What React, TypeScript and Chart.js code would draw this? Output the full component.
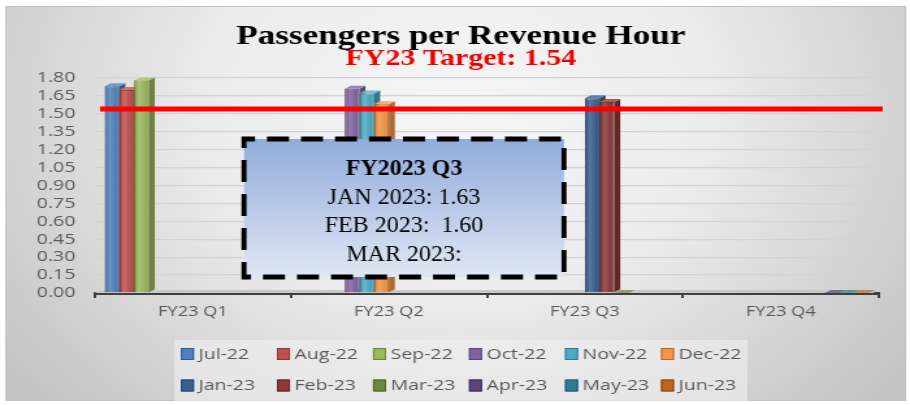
import React, { useEffect, useRef } from "react";
import { Chart, registerables } from "chart.js";

Chart.register(...registerables);

// ---------- data ----------
const CATEGORIES = ["FY23 Q1", "FY23 Q2", "FY23 Q3", "FY23 Q4"];
const MONTHS = ["Jul-22", "Aug-22", "Sep-22", "Oct-22", "Nov-22", "Dec-22", "Jan-23", "Feb-23", "Mar-23", "Apr-23", "May-23", "Jun-23"];
const JUL_22 = [1.73, null, null, null];
const AUG_22 = [1.70, null, null, null];
const SEP_22 = [1.78, null, null, null];
const OCT_22 = [null, 1.71, null, null];
const NOV_22 = [null, 1.67, null, null];
const DEC_22 = [null, 1.58, null, null];
const JAN_23 = [null, null, 1.63, null];
const FEB_23 = [null, null, 1.60, null];
const MAR_23 = [null, null, 0, null];
const APR_23 = [null, null, null, 0];
const MAY_23 = [null, null, null, 0];
const JUN_23 = [null, null, null, 0];
const SERIES = [JUL_22, AUG_22, SEP_22, OCT_22, NOV_22, DEC_22, JAN_23, FEB_23, MAR_23, APR_23, MAY_23, JUN_23];
const COLORS = ["#4F81BD", "#C0504D", "#9BBB59", "#8064A2", "#4BACC6", "#F79646", "#3B5F8F", "#8C3836", "#6E8B3D", "#5A4578", "#2E7D91", "#C0651C"];
const TARGET = 1.54;
const Y_MIN = 0;
const Y_MAX = 1.8;
const Y_STEP = 0.15;
const TITLE = "Passengers per Revenue Hour";
const SUBTITLE = "FY23 Target: " + TARGET.toFixed(2);
const NOTE_TITLE = "FY2023 Q3";
const NOTE_LINES = [
  "JAN 2023: " + (JAN_23[2] as number).toFixed(2),
  "FEB 2023:  " + (FEB_23[2] as number).toFixed(2),
  "MAR 2023:",
];

// ---------- layout ----------
const S = 1.3; // horizontal stretch of the chart picture
const W = 700;
const H = 405;
const DX = 4.6;
const DY = 3;
const SERIF = '"Liberation Serif", "Times New Roman", serif';
const SANS = '"Open Sans", "DejaVu Sans", sans-serif';

function shade(hex: string, amt: number): string {
  const n = parseInt(hex.slice(1), 16);
  let r = (n >> 16) & 255, g = (n >> 8) & 255, b = n & 255;
  if (amt < 0) {
    r = r * (1 + amt); g = g * (1 + amt); b = b * (1 + amt);
  } else {
    r = r + (255 - r) * amt; g = g + (255 - g) * amt; b = b + (255 - b) * amt;
  }
  return `rgb(${Math.round(r)},${Math.round(g)},${Math.round(b)})`;
}

function poly(ctx: CanvasRenderingContext2D, pts: number[][]) {
  ctx.beginPath();
  ctx.moveTo(pts[0][0], pts[0][1]);
  for (let i = 1; i < pts.length; i++) ctx.lineTo(pts[i][0], pts[i][1]);
  ctx.closePath();
  ctx.fill();
}

const framePlugin = {
  id: "framePlugin",
  beforeDraw(chart: any) {
    const ctx = chart.ctx as CanvasRenderingContext2D;
    ctx.save();
    ctx.fillStyle = "#ffffff";
    ctx.fillRect(0, 0, W, H);
    const g = ctx.createRadialGradient(352, 110, 0, 352, 110, 430);
    g.addColorStop(0, "#f6f6f6");
    g.addColorStop(0.45, "#ececec");
    g.addColorStop(1, "#c4c4c4");
    ctx.fillStyle = g;
    ctx.fillRect(4, 6, 693, 395);
    ctx.strokeStyle = "#c2c2c2";
    ctx.lineWidth = 1;
    ctx.strokeRect(4.5, 6.5, 692, 394);
    // legend panel
    ctx.fillStyle = "rgba(240,240,240,0.6)";
    ctx.fillRect(134, 340, 441, 61);
    ctx.restore();
  },
};

const bar3dPlugin = {
  id: "bar3dPlugin",
  beforeDatasetsDraw(chart: any) {
    const ctx = chart.ctx as CanvasRenderingContext2D;
    const ca = chart.chartArea;
    const yb = chart.scales.y.getPixelForValue(0);
    ctx.save();
    ctx.fillStyle = "#c8c8c8";
    poly(ctx, [[ca.left, yb], [ca.left + DX, yb - DY], [ca.right, yb - DY], [ca.right - DX, yb]]);
    chart.data.datasets.forEach((ds: any, i: number) => {
      const meta = chart.getDatasetMeta(i);
      const col = COLORS[i];
      meta.data.forEach((el: any, j: number) => {
        if (ds.data[j] == null) return;
        const p = el.getProps(["x", "y", "base", "width"], true);
        const l = p.x - p.width / 2, r = p.x + p.width / 2;
        const t = Math.min(p.y, p.base), b = Math.max(p.y, p.base);
        ctx.fillStyle = shade(col, -0.3);
        poly(ctx, [[r, t], [r + DX, t - DY], [r + DX, b - DY], [r, b]]);
        ctx.fillStyle = shade(col, 0.2);
        poly(ctx, [[l, t], [l + DX, t - DY], [r + DX, t - DY], [r, t]]);
      });
    });
    ctx.restore();
  },
  afterDatasetsDraw(chart: any) {
    const ctx = chart.ctx as CanvasRenderingContext2D;
    ctx.save();
    chart.data.datasets.forEach((ds: any, i: number) => {
      const meta = chart.getDatasetMeta(i);
      meta.data.forEach((el: any, j: number) => {
        if (ds.data[j] == null) return;
        const p = el.getProps(["x", "y", "base", "width"], true);
        const l = p.x - p.width / 2;
        const t = Math.min(p.y, p.base), b = Math.max(p.y, p.base);
        if (b - t < 1) return;
        const g = ctx.createLinearGradient(l, 0, l + p.width, 0);
        g.addColorStop(0, "rgba(0,0,0,0.10)");
        g.addColorStop(0.35, "rgba(255,255,255,0.16)");
        g.addColorStop(1, "rgba(0,0,0,0.06)");
        ctx.fillStyle = g;
        ctx.fillRect(l, t, p.width, b - t);
      });
    });
    // target line
    const y = chart.scales.y.getPixelForValue(TARGET);
    const ca = chart.chartArea;
    ctx.strokeStyle = "#ff0000";
    ctx.lineWidth = 5;
    ctx.beginPath();
    ctx.moveTo(ca.left + 4, y);
    ctx.lineTo(ca.right + 3, y);
    ctx.stroke();
    ctx.restore();
  },
};

const legendPlugin = {
  id: "legendPlugin",
  afterDraw(chart: any) {
    const ctx = chart.ctx as CanvasRenderingContext2D;
    ctx.save();
    ctx.font = `15px ${SANS}`;
    ctx.textBaseline = "middle";
    ctx.textAlign = "left";
    chart.data.datasets.forEach((ds: any, i: number) => {
      const row = Math.floor(i / 6), col = i % 6;
      const x = 139.2 + col * 73.85;
      const yc = row === 0 ? 354 : 385.5;
      ctx.fillStyle = ds.backgroundColor;
      ctx.fillRect(x, yc - 6, 10, 12);
      ctx.strokeStyle = shade(ds.backgroundColor, -0.3);
      ctx.lineWidth = 1;
      ctx.strokeRect(x + 0.5, yc - 5.5, 9, 11);
      ctx.fillStyle = "#595959";
      ctx.fillText(ds.label, x + 13.5, yc + 0.5);
    });
    ctx.restore();
  },
};

const notePlugin = {
  id: "notePlugin",
  afterDraw(chart: any) {
    const ctx = chart.ctx as CanvasRenderingContext2D;
    ctx.save();
    ctx.scale(1 / S, 1); // the note box in the picture is not stretched
    const x0 = 244, y0 = 139, x1 = 564, y1 = 277;
    const g = ctx.createLinearGradient(0, y0, 0, y1);
    g.addColorStop(0, "#91acdc");
    g.addColorStop(1, "#e0e7f4");
    ctx.fillStyle = g;
    ctx.fillRect(x0, y0, x1 - x0, y1 - y0);
    ctx.strokeStyle = "#000000";
    ctx.lineWidth = 5;
    ctx.setLineDash([22, 12]);
    ctx.lineDashOffset = 11;
    ctx.strokeRect(x0, y0, x1 - x0, y1 - y0);
    ctx.setLineDash([]);
    const cx = (x0 + x1) / 2;
    ctx.fillStyle = "#000000";
    ctx.textAlign = "center";
    ctx.textBaseline = "alphabetic";
    ctx.font = `bold 24px ${SERIF}`;
    ctx.fillText(NOTE_TITLE, cx, 175);
    ctx.font = `24px ${SERIF}`;
    NOTE_LINES.forEach((t, k) => ctx.fillText(t, cx, 204 + k * 28.3));
    ctx.restore();
  },
};

export default function App() {
  const ref = useRef<HTMLCanvasElement>(null);
  useEffect(() => {
    if (!ref.current) return;
    const chart = new Chart(ref.current, {
      type: "bar",
      data: {
        labels: CATEGORIES,
        datasets: MONTHS.map((m, i) => ({
          label: m,
          data: SERIES[i],
          backgroundColor: COLORS[i],
          borderColor: shade(COLORS[i], -0.25),
          borderWidth: 1,
          categoryPercentage: 0.9,
          barPercentage: 1.0,
          yAxisID: "y",
        })),
      },
      options: {
        responsive: false,
        animation: false,
        devicePixelRatio: 1,
        layout: { padding: { left: 18, right: 9, top: 0, bottom: 82 } },
        plugins: {
          legend: { display: false },
          tooltip: { enabled: false },
          title: {
            display: true,
            text: TITLE,
            color: "#000000",
            font: { family: SERIF, size: 27, weight: "bold", lineHeight: 1 },
            padding: { top: 24, bottom: -3 },
          },
          subtitle: {
            display: true,
            text: SUBTITLE,
            color: "#f20000",
            font: { family: SERIF, size: 23, weight: "bold", lineHeight: 1 },
            padding: { top: 0, bottom: 7 },
          },
        },
        scales: {
          x: {
            afterFit: (s: any) => { s.height = 30; },
            grid: {
              display: true,
              drawOnChartArea: false,
              drawTicks: true,
              tickLength: 5,
              color: "#404040",
              lineWidth: 2,
              offset: true,
            },
            border: { display: true, color: "#3f3f3f", width: 3 },
            ticks: { color: "#595959", font: { family: SANS, size: 14 }, padding: 6 },
          },
          y: {
            position: "left",
            min: Y_MIN,
            max: Y_MAX,
            afterFit: (s: any) => { s.width = 55; },
            grid: { color: "#d3d3d3", lineWidth: 1.3, drawTicks: false },
            border: { display: false },
            ticks: {
              stepSize: Y_STEP,
              autoSkip: false,
              padding: 15,
              color: "#595959",
              font: { family: SANS, size: 15, lineHeight: 1 },
              callback: (v: any) => Number(v).toFixed(2),
            },
          },
          yRight: {
            position: "right",
            display: true,
            afterFit: (s: any) => { s.width = 15; },
            grid: { display: false, drawTicks: false },
            border: { display: false },
            ticks: { display: false },
          },
        },
      },
      plugins: [framePlugin, bar3dPlugin, legendPlugin, notePlugin],
    } as any);
    return () => chart.destroy();
  }, []);
  return (
    <div style={{ position: "absolute", left: 0, top: 0, width: 910, height: 405, overflow: "hidden", background: "#ffffff" }}>
      <canvas ref={ref} width={W} height={H} style={{ width: "910px", height: "405px", display: "block" }} />
    </div>
  );
}
